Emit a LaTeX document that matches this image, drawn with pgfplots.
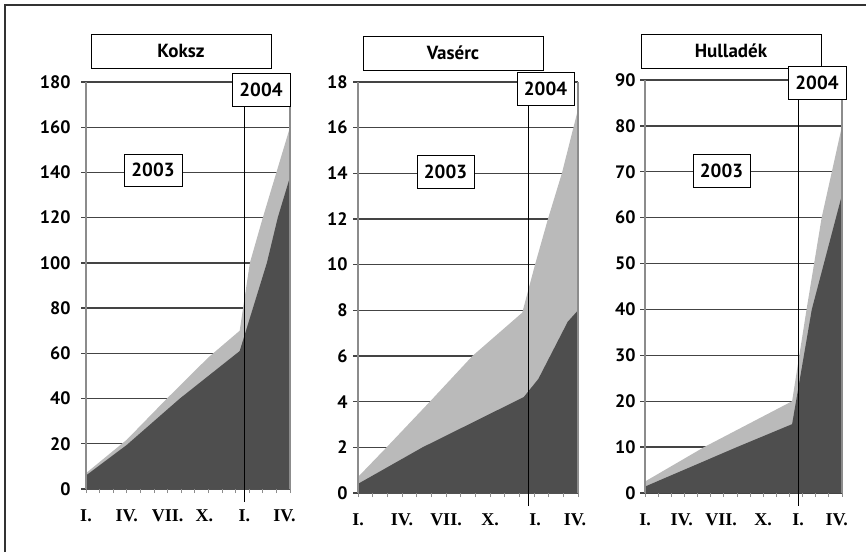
\documentclass[border=0pt]{standalone}
\usepackage{pgfplots}
\pgfplotsset{compat=1.18}
\usepackage{fontspec}
\setmainfont{PT Sans}
\newfontfamily\romfont{Liberation Serif}
\definecolor{lightfill}{HTML}{BABABA}
\definecolor{darkfill}{HTML}{4E4E4E}
\definecolor{gridc}{HTML}{444444}
\pgfplotsset{
  panel/.style={
    scale only axis, enlargelimits=false, clip=false,
    xmin=0, xmax=15, ymin=0,
    axis line style={draw=none},
    ymajorgrids, grid style={color=gridc, line width=1.4pt},
    ytick pos=left, xtick pos=bottom,
    tick align=outside, major tick length=5pt,
    ytick style={color=gridc, line width=1.4pt},
    xticklabels={I.,IV.,VII.,X.,I.,IV.},
    minor xtick={0,1,...,15},
    major x tick style={draw opacity=0},
    minor x tick style={draw=black!45, line width=0.8pt},
    minor tick length=4pt,
    xticklabel style={font=\fontsize{18}{18}\selectfont\romfont\bfseries, anchor=north, yshift=-12pt},
    /pgf/number format/assume math mode=true,
  },
}
\tikzset{box/.style={draw=black, fill=white, line width=0.8pt, inner sep=0pt, font=\fontsize{19}{19}\selectfont\bfseries}}
\begin{document}
\begin{tikzpicture}
\path[use as bounding box] (0pt,0pt) rectangle (866pt,559pt);
\draw[black!80, line width=1.5pt] (5pt,7pt) -- (5pt,554pt) -- (866pt,554pt);

% Koksz
\begin{axis}[panel, at={(86pt,70pt)}, anchor=south west, width=204pt, height=407pt,
  ymax=180, ytick={0,20,...,180}, xtick={0,3,6,9,8.7,11.65,14.6}, xtick={0,3,6,8.7,11.65,14.6},
  yticklabel style={font=\fontsize{18}{18}\selectfont\bfseries, anchor=east, xshift=-7pt}]
\addplot[fill=lightfill, draw=none] coordinates {(0,7) (3,21.8) (6,40.3) (9,58.2) (11.3,70) (12.05,100) (13,120) (14,140) (15,160)} \closedcycle;
\addplot[fill=darkfill, draw=none] coordinates {(0,6) (3,19.5) (6.9,40) (11.3,61) (13.3,100) (14.1,120) (15,138)} \closedcycle;
\draw[black!45, line width=1.8pt] (axis cs:0,0) -- (axis cs:0,180);
\draw[black!45, line width=1.8pt] (axis cs:15,0) -- (axis cs:15,180);
\draw[black, line width=0.8pt] ([yshift=-13pt]axis cs:11.65,0) -- (axis cs:11.65,180);
\end{axis}

% Vaserc
\begin{axis}[panel, at={(358pt,66pt)}, anchor=south west, width=220pt, height=411pt,
  ymax=18, ytick={0,2,...,18}, xtick={0,3,6,9,12.07,14.8},
  yticklabel style={font=\fontsize{18}{18}\selectfont\bfseries, anchor=east, xshift=-2pt}]
\addplot[fill=lightfill, draw=none] coordinates {(0,0.7) (1.95,2) (4.9,4) (7.8,6) (11.2,7.9) (12.07,10) (12.95,12) (13.9,14) (15,16.8)} \closedcycle;
\addplot[fill=darkfill, draw=none] coordinates {(0,0.4) (4.4,2.0) (11.3,4.2) (12.3,5.0) (14.3,7.5) (15,8.0)} \closedcycle;
\draw[black!45, line width=1.8pt] (axis cs:0,0) -- (axis cs:0,18);
\draw[black!45, line width=1.8pt] (axis cs:15,0) -- (axis cs:15,18);
\draw[black, line width=0.8pt] ([yshift=-13pt]axis cs:11.65,0) -- (axis cs:11.65,18);
\end{axis}

% Hulladek
\begin{axis}[panel, at={(645pt,66pt)}, anchor=south west, width=197pt, height=413pt,
  ymax=90, ytick={0,10,...,90}, xtick={0,2.8,5.8,9,11.65,14.6},
  yticklabel style={font=\fontsize{18}{18}\selectfont\bfseries, anchor=east, xshift=-1pt}]
\addplot[fill=lightfill, draw=none] coordinates {(0,2.5) (4.5,10) (11.2,20) (12.3,40) (13.45,60) (15,80)} \closedcycle;
\addplot[fill=darkfill, draw=none] coordinates {(0,1.4) (7,10) (11.2,15) (12.7,40) (15,65)} \closedcycle;
\draw[black!45, line width=1.8pt] (axis cs:0,0) -- (axis cs:0,90);
\draw[black!45, line width=1.8pt] (axis cs:15,0) -- (axis cs:15,90);
\draw[black, line width=0.8pt] ([yshift=-13pt]axis cs:11.65,0) -- (axis cs:11.65,90);
\end{axis}

% boxes
\node[box, minimum width=180pt, minimum height=34pt] at (181pt,508pt) {Koksz};
\node[box, minimum width=58pt, minimum height=33pt] at (261pt,469.5pt) {2004};
\node[box, minimum width=58pt, minimum height=32pt] at (153pt,389pt) {2003};

\node[box, minimum width=180pt, minimum height=34pt] at (453pt,506pt) {Vasérc};
\node[box, minimum width=57pt, minimum height=33pt] at (545.5pt,470.5pt) {2004};
\node[box, minimum width=57pt, minimum height=33pt] at (445.5pt,387.5pt) {2003};

\node[box, minimum width=180pt, minimum height=34pt] at (731pt,508pt) {Hulladék};
\node[box, minimum width=58pt, minimum height=33pt] at (817pt,476.5pt) {2004};
\node[box, minimum width=57pt, minimum height=33pt] at (721.5pt,388.5pt) {2003};
\end{tikzpicture}
\end{document}
